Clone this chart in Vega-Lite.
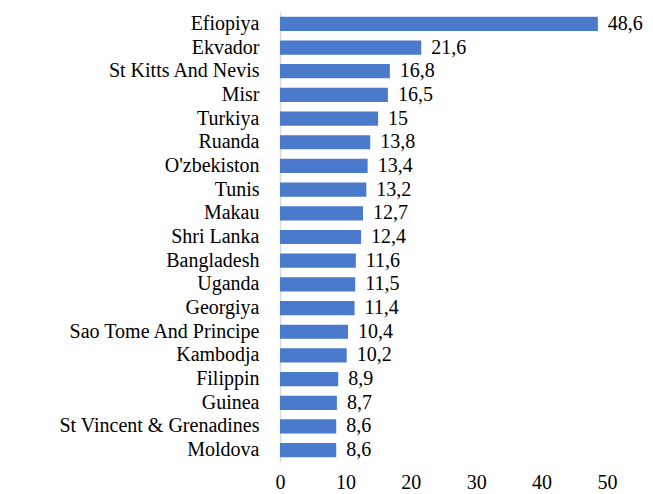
{
  "$schema": "https://vega.github.io/schema/vega-lite/v6.json",
  "width": 327,
  "height": 450,
  "autosize": {"type": "none"},
  "padding": {"left": 280, "top": 12, "right": 46, "bottom": 32},
  "background": "white",
  "config": {
    "locale": {"number": {"decimal": ",", "thousands": " ", "grouping": [3], "currency": ["", ""]}},
    "view": {"stroke": null},
    "font": "Liberation Serif"
  },
  "data": {
    "values": [
      {"country": "Efiopiya", "value": 48.6},
      {"country": "Ekvador", "value": 21.6},
      {"country": "St Kitts And Nevis", "value": 16.8},
      {"country": "Misr", "value": 16.5},
      {"country": "Turkiya", "value": 15},
      {"country": "Ruanda", "value": 13.8},
      {"country": "O'zbekiston", "value": 13.4},
      {"country": "Tunis", "value": 13.2},
      {"country": "Makau", "value": 12.7},
      {"country": "Shri Lanka", "value": 12.4},
      {"country": "Bangladesh", "value": 11.6},
      {"country": "Uganda", "value": 11.5},
      {"country": "Georgiya", "value": 11.4},
      {"country": "Sao Tome And Principe", "value": 10.4},
      {"country": "Kambodja", "value": 10.2},
      {"country": "Filippin", "value": 8.9},
      {"country": "Guinea", "value": 8.7},
      {"country": "St Vincent & Grenadines", "value": 8.6},
      {"country": "Moldova", "value": 8.6}
    ]
  },
  "encoding": {
    "y": {
      "field": "country", "type": "nominal", "sort": null,
      "scale": {"paddingInner": 0.4, "paddingOuter": 0.2},
      "axis": {
        "title": null, "ticks": false, "domain": true, "domainColor": "#d9d9d9", "domainWidth": 1.5,
        "labelFont": "Liberation Serif", "labelFontSize": 20, "labelColor": "#000000",
        "labelPadding": 21, "labelLimit": 400
      }
    },
    "x": {
      "field": "value", "type": "quantitative",
      "scale": {"domain": [0, 50], "nice": false},
      "axis": {
        "title": null, "grid": false, "ticks": false, "domain": false, "labelFlush": false,
        "values": [0, 10, 20, 30, 40, 50],
        "labelFont": "Liberation Serif", "labelFontSize": 20, "labelColor": "#000000",
        "labelPadding": 10, "format": "d"
      }
    }
  },
  "layer": [
    {"mark": {"type": "bar", "color": "#4a7acc"}},
    {
      "mark": {"type": "text", "align": "left", "baseline": "middle", "dx": 10, "font": "Liberation Serif", "fontSize": 20, "color": "#000000"},
      "encoding": {"text": {"field": "value", "type": "quantitative", "format": ".1~f"}}
    }
  ]
}
